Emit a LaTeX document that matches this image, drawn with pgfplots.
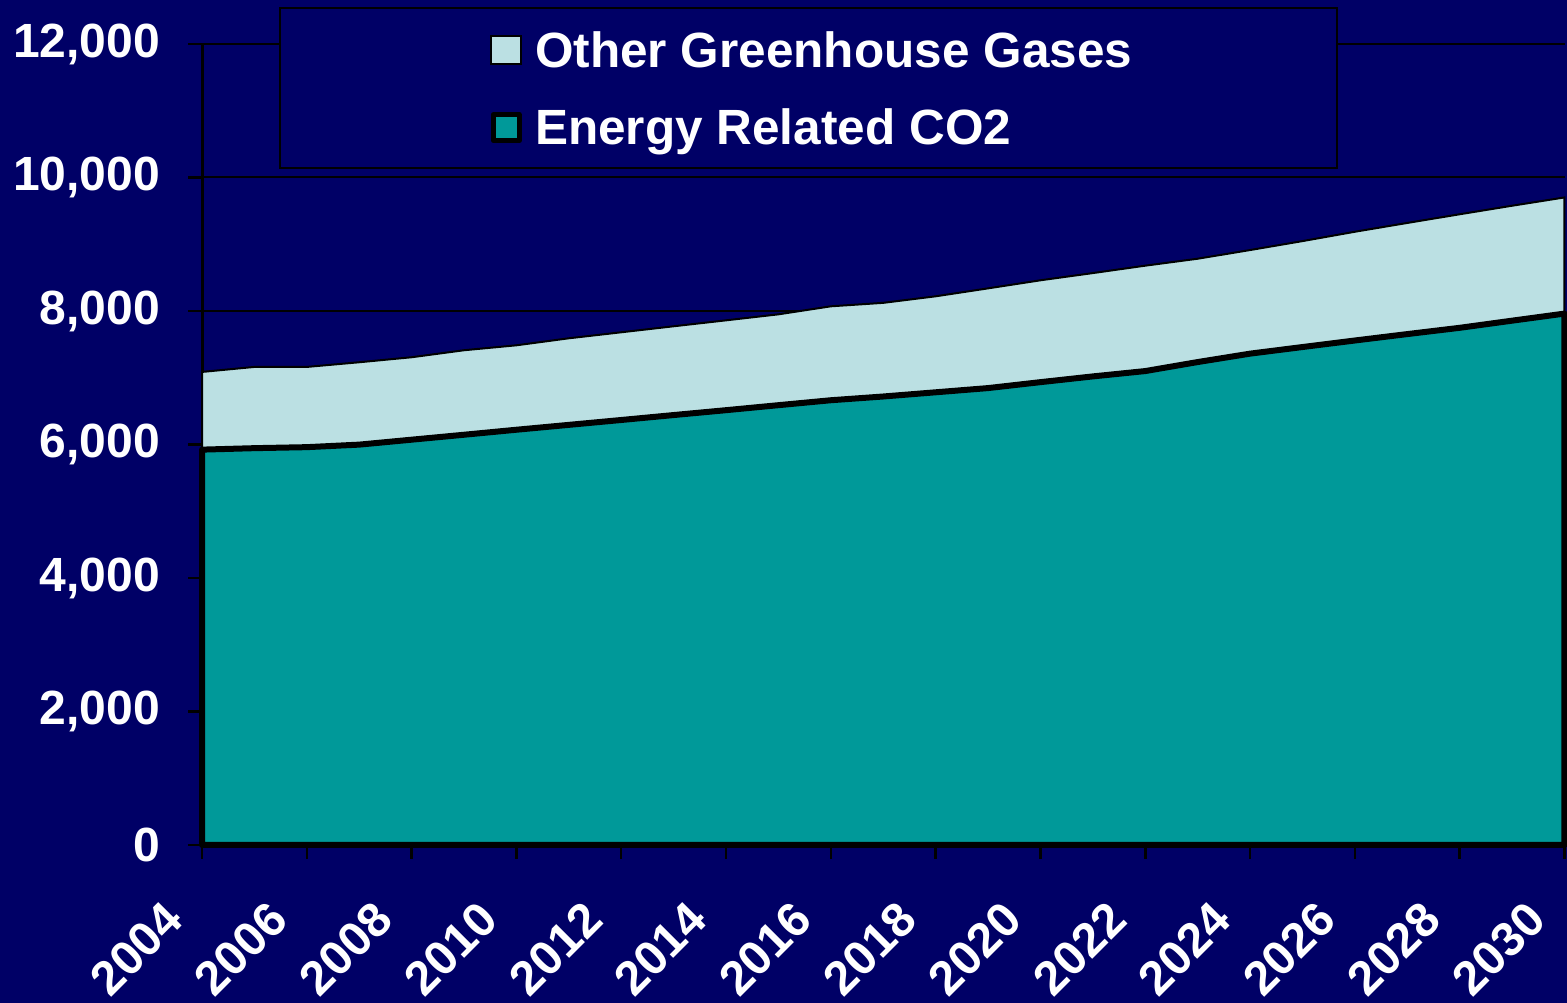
\documentclass[border=0pt]{standalone}
\usepackage{pgfplots}
\usepackage{pgfplotstable}
\pgfplotsset{compat=1.18}
\usepackage{fontspec}
\setmainfont{Liberation Sans}
\definecolor{navy}{RGB}{0,0,102}
\definecolor{tealc}{RGB}{0,153,153}
\definecolor{lightc}{RGB}{187,224,227}
\pgfplotstableread{
year co2 other
2004 5923 1164
2005 5945 1217
2006 5960 1202
2007 5998 1234
2008 6072 1235
2009 6146 1266
2010 6221 1265
2011 6294 1297
2012 6367 1314
2013 6441 1330
2014 6514 1346
2015 6589 1361
2016 6663 1407
2017 6719 1403
2018 6782 1438
2019 6845 1494
2020 6934 1526
2021 7020 1548
2022 7100 1579
2023 7235 1548
2024 7361 1552
2025 7460 1587
2026 7558 1629
2027 7654 1665
2028 7748 1701
2029 7855 1722
2030 7961 1740
}\datatable
\begin{document}
\begin{tikzpicture}
\fill[navy] (0,0) rectangle (1567pt,1003pt);
\path[use as bounding box] (0,0) rectangle (1567pt,1003pt);
\begin{axis}[
  at={(202pt,158pt)}, anchor=south west,
  scale only axis, width=1363pt, height=801pt,
  xmin=2004, xmax=2030.01, ymin=0, ymax=12000,
  axis x line*=bottom, axis y line*=left,
  axis line style={black, line width=3pt},
  xtick={2004,2006,2008,2010,2012,2014,2016,2018,2020,2022,2024,2026,2028,2030},
  ytick={0,2000,4000,6000,8000,10000,12000},
  scaled y ticks=false,
  ymajorgrids, grid style={black, line width=2pt},
  tick align=outside,
  major tick length=14pt,
  tick style={black, line width=2.5pt},
  clip=false,
  /pgf/number format/assume math mode=true,
  tick label style={font=\fontsize{48}{58}\selectfont\bfseries, text=white},
  yticklabel style={/pgf/number format/1000 sep={,}, inner sep=0pt, xshift=-28pt},
  xticklabel style={/pgf/number format/1000 sep={}, inner sep=0pt, xshift=-40pt, yshift=-40pt, rotate=45, anchor=north east},
  legend style={at={(axis description cs:0.2113,0.9438)}, anchor=west, draw=none, fill=none,
    inner sep=0pt, nodes={inner sep=0pt, text=white, font=\fontsize{49.5}{59}\selectfont\bfseries},
    column sep=13pt, row sep=40pt},
  legend cell align=left,
]
\draw[fill=navy, draw=black, line width=2pt] (axis description cs:0.05723,0.84520) rectangle (axis description cs:0.8327,1.04494);
\addplot[fill=lightc, draw=black, line width=2pt,
  legend image code/.code={\draw[fill=lightc, draw=black, line width=2pt] (0pt,-14pt) rectangle (30pt,14pt);}]
  table[x=year, y expr=\thisrow{co2}+\thisrow{other}]{\datatable} \closedcycle;
\addlegendentry{Other Greenhouse Gases}
\addplot[fill=tealc, draw=black, line width=6pt, line join=round,
  legend image code/.code={\draw[fill=tealc, draw=black, line width=5pt] (2pt,-13pt) rectangle (28pt,13pt);}]
  table[x=year, y=co2]{\datatable} \closedcycle;
\addlegendentry{Energy Related CO2}
\end{axis}
\end{tikzpicture}
\end{document}
